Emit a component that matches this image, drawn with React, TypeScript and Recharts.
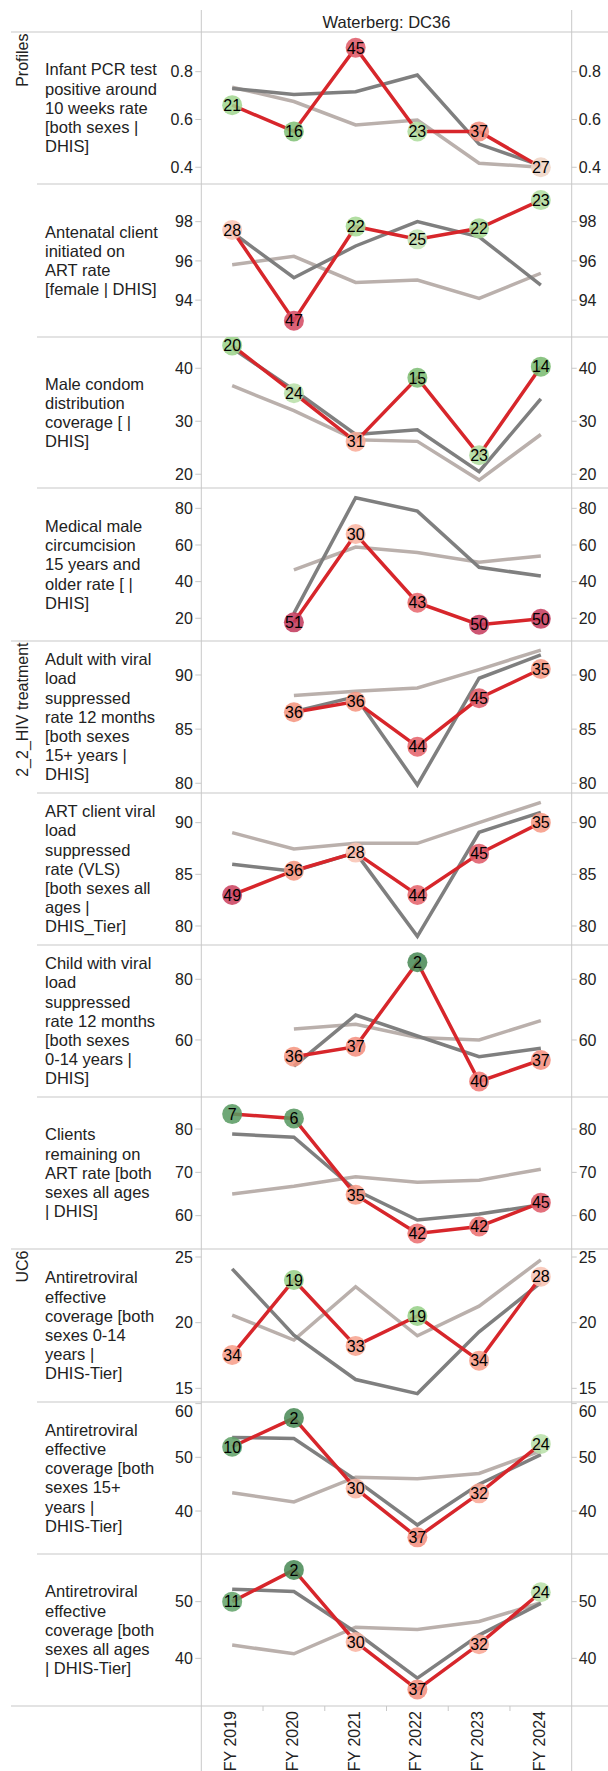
import React from "react";
import { LineChart, Line, XAxis, YAxis } from "recharts";

// ---------- categories / titles ----------
const YEARS = ["FY 2019", "FY 2020", "FY 2021", "FY 2022", "FY 2023", "FY 2024"];
const TITLE = "Waterberg: DC36";
const GROUP_NAMES = ["Profiles", "2_2_HIV treatment", "UC6"];

// ---------- 1 Infant PCR ----------
const infantPcrLabel = ["Infant PCR test", "positive around", "10 weeks rate", "[both sexes |", "DHIS]"];
const infantPcrDistrict = [0.66, 0.55, 0.9, 0.55, 0.55, 0.4];
const infantPcrRank = [21, 16, 45, 23, 37, 27];
const infantPcrProvince = [0.73, 0.705, 0.716, 0.786, 0.497, 0.407];
const infantPcrNational = [0.735, 0.675, 0.577, 0.598, 0.417, 0.4];
const infantPcrTicks = [0.4, 0.6, 0.8];
const infantPcrDomain = [0.33, 0.966];

// ---------- 2 Antenatal ART ----------
const antenatalLabel = ["Antenatal client", "initiated on", "ART rate", "[female | DHIS]"];
const antenatalDistrict = [97.58, 92.95, 97.75, 97.1, 97.66, 99.1];
const antenatalRank = [28, 47, 22, 25, 22, 23];
const antenatalProvince = [97.46, 95.14, 96.76, 98.0, 97.23, 94.77];
const antenatalNational = [95.8, 96.23, 94.9, 95.02, 94.09, 95.37];
const antenatalTicks = [94, 96, 98];
const antenatalDomain = [92.12, 99.92];

// ---------- 3 Male condom ----------
const condomLabel = ["Male condom", "distribution", "coverage [ |", "DHIS]"];
const condomDistrict = [44.3, 35.3, 26.15, 38.2, 23.6, 40.3];
const condomRank = [20, 24, 31, 15, 23, 14];
const condomProvince = [43.8, 35.9, 27.5, 28.4, 20.5, 34.2];
const condomNational = [36.7, 32.0, 26.5, 26.2, 18.9, 27.5];
const condomTicks = [20, 30, 40];
const condomDomain = [17.4, 45.9];

// ---------- 4 MMC ----------
const mmcLabel = ["Medical male", "circumcision", "15 years and", "older rate [ |", "DHIS]"];
const mmcDistrict = [null, 17.8, 66.0, 28.5, 16.5, 19.7];
const mmcRank = [null, 51, 30, 43, 50, 50];
const mmcProvince = [null, 22.7, 85.8, 78.5, 47.8, 43.1];
const mmcNational = [null, 46.4, 58.9, 55.9, 50.6, 54.0];
const mmcTicks = [20, 40, 60, 80];
const mmcDomain = [7.6, 91.1];

// ---------- 5 Adult VL ----------
const adultVlLabel = ["Adult with viral", "load", "suppressed", "rate 12 months", "[both sexes", "15+ years |", "DHIS]"];
const adultVlDistrict = [null, 86.56, 87.54, 83.38, 87.85, 90.55];
const adultVlRank = [null, 36, 36, 44, 45, 35];
const adultVlProvince = [null, 86.6, 88.0, 79.85, 89.7, 91.85];
const adultVlNational = [null, 88.1, 88.5, 88.8, 90.5, 92.3];
const adultVlTicks = [80, 85, 90];
const adultVlDomain = [79.1, 93.14];

// ---------- 6 ART VLS ----------
const vlsLabel = ["ART client viral", "load", "suppressed", "rate (VLS)", "[both sexes all", "ages |", "DHIS_Tier]"];
const vlsDistrict = [83.0, 85.35, 87.1, 83.0, 87.0, 90.0];
const vlsRank = [49, 36, 28, 44, 45, 35];
const vlsProvince = [85.97, 85.3, 87.1, 79.0, 89.07, 91.0];
const vlsNational = [89.03, 87.45, 88.0, 88.0, 90.0, 91.97];
const vlsTicks = [80, 85, 90];
const vlsDomain = [78.16, 92.87];

// ---------- 7 Child VL ----------
const childVlLabel = ["Child with viral", "load", "suppressed", "rate 12 months", "[both sexes", "0-14 years |", "DHIS]"];
const childVlDistrict = [null, 54.5, 57.8, 85.6, 46.3, 53.4];
const childVlRank = [null, 36, 37, 2, 40, 37];
const childVlProvince = [null, 51.4, 68.2, 61.3, 54.5, 57.3];
const childVlNational = [null, 63.6, 65.2, 60.8, 60.0, 66.4];
const childVlTicks = [60, 80];
const childVlDomain = [41.2, 91.3];

// ---------- 8 Remaining on ART ----------
const remainLabel = ["Clients", "remaining on", "ART rate [both", "sexes all ages", "| DHIS]"];
const remainDistrict = [83.46, 82.46, 64.8, 55.9, 57.5, 63.0];
const remainRank = [7, 6, 35, 42, 42, 45];
const remainProvince = [78.85, 78.1, 65.9, 59.0, 60.4, 62.5];
const remainNational = [65.0, 66.8, 69.0, 67.7, 68.2, 70.7];
const remainTicks = [60, 70, 80];
const remainDomain = [52.3, 87.4];

// ---------- 9 ART coverage 0-14 ----------
const cov014Label = ["Antiretroviral", "effective", "coverage [both", "sexes 0-14", "years |", "DHIS-Tier]"];
const cov014District = [17.54, 23.25, 18.23, 20.51, 17.11, 23.5];
const cov014Rank = [34, 19, 33, 19, 34, 28];
const cov014Province = [24.1, 19.05, 15.67, 14.6, 19.3, 23.05];
const cov014National = [20.58, 18.68, 22.74, 19.0, 21.26, 24.78];
const cov014Ticks = [15, 20, 25];
const cov014Domain = [13.96, 25.61];

// ---------- 10 ART coverage 15+ ----------
const cov15Label = ["Antiretroviral", "effective", "coverage [both", "sexes 15+", "years |", "DHIS-Tier]"];
const cov15District = [51.97, 57.3, 44.2, 35.1, 43.3, 52.5];
const cov15Rank = [10, 2, 30, 37, 32, 24];
const cov15Province = [53.7, 53.5, 45.8, 37.4, 45.0, 50.5];
const cov15National = [43.4, 41.7, 46.3, 46.0, 47.0, 51.2];
const cov15Ticks = [40, 50, 60];
const cov15Domain = [32.0, 60.3];

// ---------- 11 ART coverage all ages ----------
const covAllLabel = ["Antiretroviral", "effective", "coverage [both", "sexes all ages", "| DHIS-Tier]"];
const covAllDistrict = [50.0, 55.6, 42.9, 34.5, 42.5, 51.65];
const covAllRank = [11, 2, 30, 37, 32, 24];
const covAllProvince = [52.2, 51.8, 44.6, 36.5, 44.1, 49.7];
const covAllNational = [42.35, 40.8, 45.5, 45.1, 46.5, 49.8];
const covAllTicks = [40, 50];
const covAllDomain = [31.6, 58.4];

const PANELS = [
  { label: infantPcrLabel, district: infantPcrDistrict, rank: infantPcrRank, province: infantPcrProvince, national: infantPcrNational, ticks: infantPcrTicks, domain: infantPcrDomain },
  { label: antenatalLabel, district: antenatalDistrict, rank: antenatalRank, province: antenatalProvince, national: antenatalNational, ticks: antenatalTicks, domain: antenatalDomain },
  { label: condomLabel, district: condomDistrict, rank: condomRank, province: condomProvince, national: condomNational, ticks: condomTicks, domain: condomDomain },
  { label: mmcLabel, district: mmcDistrict, rank: mmcRank, province: mmcProvince, national: mmcNational, ticks: mmcTicks, domain: mmcDomain },
  { label: adultVlLabel, district: adultVlDistrict, rank: adultVlRank, province: adultVlProvince, national: adultVlNational, ticks: adultVlTicks, domain: adultVlDomain },
  { label: vlsLabel, district: vlsDistrict, rank: vlsRank, province: vlsProvince, national: vlsNational, ticks: vlsTicks, domain: vlsDomain },
  { label: childVlLabel, district: childVlDistrict, rank: childVlRank, province: childVlProvince, national: childVlNational, ticks: childVlTicks, domain: childVlDomain },
  { label: remainLabel, district: remainDistrict, rank: remainRank, province: remainProvince, national: remainNational, ticks: remainTicks, domain: remainDomain },
  { label: cov014Label, district: cov014District, rank: cov014Rank, province: cov014Province, national: cov014National, ticks: cov014Ticks, domain: cov014Domain },
  { label: cov15Label, district: cov15District, rank: cov15Rank, province: cov15Province, national: cov15National, ticks: cov15Ticks, domain: cov15Domain },
  { label: covAllLabel, district: covAllDistrict, rank: covAllRank, province: covAllProvince, national: covAllNational, ticks: covAllTicks, domain: covAllDomain },
];

// ---------- layout ----------
const W = 608;
const H = 1771;
const PLOT_LEFT = 201.3;
const PLOT_RIGHT = 571.7;
const BAND = (PLOT_RIGHT - PLOT_LEFT) / YEARS.length;
const PANEL_EDGES = [32, 184, 337, 488, 641, 793, 945, 1097, 1249, 1402, 1554, 1706];
const GROUP_EDGE_IDX = [0, 4, 8, 11];
const PAD = 12;
const X_AXIS_H = 65;
const FONT = "'Liberation Sans', Arial, Helvetica, sans-serif";
const GRID = "#c8c8c8";
const TEXT = "#222";
const RED = "#d7262b";
const DARK = "#7f7f7f";
const LIGHT = "#bab0ac";

const RANK_STOPS: [number, string][] = [
  [1, "#3f7f4c"], [2, "#4a8a56"], [7, "#5a9b63"], [11, "#63a46b"], [14, "#7abb71"],
  [16, "#82c178"], [19, "#97d087"], [22, "#a6d994"], [25, "#c2e3b3"], [27, "#efd5c6"],
  [28, "#f8c3b3"], [31, "#f9ac99"], [36, "#f59580"], [40, "#f07a76"], [44, "#e5636b"],
  [47, "#d44b63"], [52, "#bd345a"],
];

function hex(c: string) {
  return [1, 3, 5].map((i) => parseInt(c.slice(i, i + 2), 16));
}
function rankColor(r: number) {
  if (r <= RANK_STOPS[0][0]) return RANK_STOPS[0][1];
  for (let i = 1; i < RANK_STOPS.length; i++) {
    const [r1, c1] = RANK_STOPS[i];
    if (r <= r1) {
      const [r0, c0] = RANK_STOPS[i - 1];
      const t = (r - r0) / (r1 - r0);
      const a = hex(c0);
      const b = hex(c1);
      const m = a.map((v, k) => Math.round(v + (b[k] - v) * t));
      return `rgb(${m[0]},${m[1]},${m[2]})`;
    }
  }
  return RANK_STOPS[RANK_STOPS.length - 1][1];
}

function makeDot(ranks: (number | null)[]) {
  return (props: any) => {
    const { cx, cy, index, value } = props;
    if (value == null || cx == null || cy == null || ranks[index] == null) {
      return <g key={`d-${index}`} />;
    }
    const r = ranks[index] as number;
    return (
      <g key={`d-${index}`}>
        <circle cx={cx} cy={cy} r={10} fill={rankColor(r)} fillOpacity={0.87} stroke="none" />
        <text
          x={cx}
          y={cy}
          dy="0.36em"
          textAnchor="middle"
          fontSize={16}
          fontFamily={FONT}
          fill="#000"
        >
          {r}
        </text>
      </g>
    );
  };
}

function makeValueTick(plotTop: number) {
  return (props: any) => {
    const { x, y, payload, textAnchor, index } = props;
    const ty = y - plotTop < 8 ? plotTop + 9.7 : y;
    return (
      <text
        key={`v-${index}`}
        x={x}
        y={ty}
        dy="0.36em"
        textAnchor={textAnchor}
        fontSize={16}
        fontFamily={FONT}
        fill={TEXT}
      >
        {payload.value}
      </text>
    );
  };
}

function makeYearTick(axisTop: number) {
  return (props: any) => {
    const { x, index, payload } = props;
    return (
      <g key={`t-${index}`}>
        {index < YEARS.length - 1 && (
          <line x1={x + BAND / 2} x2={x + BAND / 2} y1={axisTop} y2={axisTop + 5} stroke={GRID} strokeWidth={1} />
        )}
        <text
          transform={`translate(${x - 1.5},${axisTop + 5}) rotate(-90)`}
          textAnchor="end"
          dominantBaseline="central"
          fontSize={16}
          fontFamily={FONT}
          fill={TEXT}
        >
          {payload.value}
        </text>
      </g>
    );
  };
}

function Panel({ p, i }: { p: any; i: number }) {
  const top = PANEL_EDGES[i];
  const h = PANEL_EDGES[i + 1] - top;
  const last = i === PANELS.length - 1;
  const data = YEARS.map((year, k) => ({
    year,
    district: p.district[k],
    province: p.province[k],
    national: p.national[k],
  }));
  const chartH = PAD + h + (last ? X_AXIS_H : PAD);
  const valueTick = makeValueTick(PAD);
  return (
    <div style={{ position: "absolute", left: 0, top: top - PAD, width: W, height: chartH }}>
      <LineChart
        width={W}
        height={chartH}
        data={data}
        margin={{ top: PAD, bottom: last ? 0 : PAD, left: 0, right: 0 }}
      >
        <XAxis
          dataKey="year"
          type="category"
          hide={!last}
          height={last ? X_AXIS_H : 0}
          padding={{ left: BAND / 2, right: BAND / 2 }}
          axisLine={false}
          tickLine={false}
          interval={0}
          tick={makeYearTick(PAD + h)}
        />
        <YAxis
          yAxisId="l"
          orientation="left"
          width={PLOT_LEFT}
          domain={p.domain}
          ticks={p.ticks}
          type="number"
          interval={0}
          axisLine={false}
          tickLine={{ stroke: GRID }}
          tickSize={6}
          tickMargin={2.5}
          tick={valueTick}
          allowDataOverflow
        />
        <YAxis
          yAxisId="r"
          orientation="right"
          width={W - PLOT_RIGHT}
          domain={p.domain}
          ticks={p.ticks}
          type="number"
          interval={0}
          axisLine={false}
          tickLine={{ stroke: GRID }}
          tickSize={5}
          tickMargin={2}
          tick={valueTick}
          allowDataOverflow
        />
        <Line yAxisId="l" type="linear" dataKey="national" stroke={LIGHT} strokeWidth={3.5} dot={false} isAnimationActive={false} />
        <Line yAxisId="l" type="linear" dataKey="province" stroke={DARK} strokeWidth={3.5} dot={false} isAnimationActive={false} />
        <Line
          yAxisId="l"
          type="linear"
          dataKey="district"
          stroke={RED}
          strokeWidth={3.5}
          dot={makeDot(p.rank)}
          activeDot={false}
          isAnimationActive={false}
        />
      </LineChart>
    </div>
  );
}

export default function App() {
  const groupStarts = GROUP_EDGE_IDX.slice(0, 3).map((k) => PANEL_EDGES[k]);
  return (
    <div
      style={{
        position: "absolute",
        left: 0,
        top: 0,
        width: W,
        height: H,
        background: "#fff",
        overflow: "hidden",
        fontFamily: FONT,
      }}
    >
      <svg width={W} height={H} style={{ position: "absolute", left: 0, top: 0 }}>
        <text x={(PLOT_LEFT + PLOT_RIGHT) / 2} y={27.5} textAnchor="middle" fontSize={16.5} fontFamily={FONT} fill={TEXT}>
          {TITLE}
        </text>
        <line x1={PLOT_LEFT} x2={PLOT_LEFT} y1={10} y2={H} stroke={GRID} strokeWidth={1} />
        <line x1={PLOT_RIGHT} x2={PLOT_RIGHT} y1={10} y2={H} stroke={GRID} strokeWidth={1} />
        {PANEL_EDGES.map((y, k) => (
          <line
            key={`h-${k}`}
            x1={GROUP_EDGE_IDX.includes(k) ? 11 : 37}
            x2={W}
            y1={y}
            y2={y}
            stroke={GRID}
            strokeWidth={1.2}
          />
        ))}
        {GROUP_NAMES.map((g, k) => (
          <text
            key={`g-${k}`}
            transform={`translate(28.3,${groupStarts[k] + 1.5}) rotate(-90)`}
            textAnchor="end"
            fontSize={16}
            fontFamily={FONT}
            fill={TEXT}
          >
            {g}
          </text>
        ))}
        {PANELS.map((p, i) => {
          const c = (PANEL_EDGES[i] + PANEL_EDGES[i + 1]) / 2;
          const n = p.label.length;
          return (
            <text key={`l-${i}`} fontSize={16.5} fontFamily={FONT} fill={TEXT}>
              {p.label.map((ln: string, j: number) => (
                <tspan key={j} x={45} y={c + (j - (n - 1) / 2) * 19.2 + 5.8}>
                  {ln}
                </tspan>
              ))}
            </text>
          );
        })}
      </svg>
      {PANELS.map((p, i) => (
        <Panel key={i} p={p} i={i} />
      ))}
    </div>
  );
}
